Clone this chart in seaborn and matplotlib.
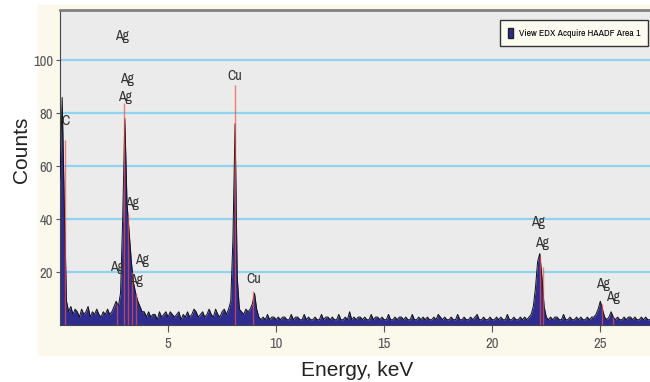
import numpy as np
import pandas as pd
import matplotlib
matplotlib.use("Agg")
import matplotlib.pyplot as plt
import seaborn as sns
from matplotlib import font_manager
from matplotlib.patches import Rectangle, Patch

# EDX spectrum, counts per 0.1 keV channel
step_kev = 0.1
counts = [
    55, 86, 45, 9, 5, 7, 4, 6, 5, 3,
    6, 4, 5, 7, 3, 5, 4, 6, 4, 3,
    5, 4, 6, 4, 5, 7, 9, 7, 12, 40,
    78, 46, 35, 24, 16, 12, 9, 7, 5, 5,
    3, 5, 3, 4, 4, 2, 5, 3, 4, 5,
    3, 5, 4, 3, 4, 5, 2, 4, 3, 5,
    3, 4, 6, 5, 3, 4, 5, 3, 4, 6,
    4, 3, 6, 4, 3, 5, 6, 4, 6, 9,
    32, 76, 18, 6, 5, 4, 6, 5, 6, 8,
    12, 6, 3, 2, 3, 2, 4, 2, 3, 3,
    2, 3, 2, 3, 3, 2, 2, 4, 2, 3,
    3, 2, 2, 4, 2, 3, 2, 2, 3, 2,
    2, 4, 2, 3, 3, 2, 3, 2, 2, 4,
    2, 2, 3, 2, 5, 2, 3, 2, 3, 3,
    2, 3, 2, 2, 4, 2, 3, 3, 2, 3,
    2, 2, 4, 2, 2, 3, 2, 3, 3, 2,
    3, 2, 2, 4, 2, 2, 3, 2, 3, 2,
    3, 2, 2, 3, 2, 4, 3, 2, 3, 2,
    2, 3, 2, 2, 4, 2, 2, 3, 2, 2,
    3, 2, 3, 4, 2, 2, 3, 2, 2, 3,
    2, 2, 3, 2, 3, 2, 2, 4, 2, 2,
    3, 2, 2, 3, 2, 3, 2, 3, 4, 7,
    14, 24, 27, 18, 7, 3, 2, 3, 2, 3,
    3, 2, 2, 4, 2, 2, 3, 2, 2, 3,
    2, 3, 2, 2, 3, 2, 3, 3, 4, 6,
    9, 6, 3, 2, 3, 5, 3, 2, 3, 2,
    2, 3, 2, 3, 3, 2, 3, 2, 2, 3,
    2, 3, 2, 2,
]
energy = np.arange(len(counts)) * step_kev

# element line markers (red)
marker_kev = [0.23, 2.63, 2.98, 3.15, 3.35, 3.52, 8.1, 8.94, 22.2, 22.35, 25.1, 25.6]
marker_h = [70, 8, 84, 42, 20, 12, 90.5, 13, 26, 22, 8, 3]

# peak labels
label_text = ["Ag", "Ag", "Ag", "C", "Ag", "Ag", "Ag", "Ag", "Cu", "Cu",
              "Ag", "Ag", "Ag", "Ag"]
label_kev = [2.85, 3.1, 3.0, 0.27, 3.35, 2.65, 3.8, 3.52, 8.1, 8.94,
             22.1, 22.3, 25.1, 25.6]
label_cnt = [109, 93, 86, 77, 46, 22, 24.5, 17, 94, 17.5,
             39, 31, 15.5, 10.5]

yticks = [20, 40, 60, 80, 100]
xticks = [5, 10, 15, 20, 25]

df = pd.DataFrame({"Energy": energy, "Counts": counts})

# use a condensed face if one is installed
names = sorted({f.name for f in font_manager.fontManager.ttflist})
cond = [n for n in names if "Narrow" in n or "Condensed" in n]
narrow = cond[:1] + ["Liberation Sans", "DejaVu Sans"]
k = 1.0 if cond else 0.85
plt.rcParams["font.family"] = ["Liberation Sans", "DejaVu Sans"]

fig = plt.figure(figsize=(6.5, 3.82), dpi=100)
fig.patches.append(Rectangle((38 / 650, 1 - 355 / 382), 612 / 650, 350 / 382,
                             transform=fig.transFigure, color="#FBF8EC", zorder=-10))
ax = fig.add_axes([60 / 650, 1 - 325 / 382, 590 / 650, 315 / 382])
ax.set_facecolor("#EBEBEB")

for y in yticks:
    ax.axhline(y, color="#8FD3F0", lw=1.6, zorder=1)

ax.fill_between(df["Energy"], df["Counts"], color="#2F2C90", lw=0, zorder=2)
sns.lineplot(data=df, x="Energy", y="Counts", color="#111", lw=0.7, ax=ax, zorder=3)
ax.vlines(marker_kev, 0, marker_h, color="#F0504A", lw=1.0, alpha=0.7, zorder=4)

for t, x, y in zip(label_text, label_kev, label_cnt):
    ax.text(x, y, t, ha="center", va="center", fontsize=10 * k, color="#333",
            family=narrow, zorder=5)

ax.set_xlim(0, 27.3)
ax.set_ylim(0, 119)
ax.set_xticks(xticks)
ax.set_yticks(yticks)
ax.tick_params(axis="both", labelsize=10.5 * k, labelcolor="#555", color="#555",
               length=3, width=0.8)
ax.tick_params(axis="x", length=5, pad=4)
ax.tick_params(axis="y", pad=2)
for lab in ax.get_xticklabels() + ax.get_yticklabels():
    lab.set_family(narrow)

ax.spines["top"].set_color("#808080")
ax.spines["top"].set_linewidth(2)
ax.spines["right"].set_visible(False)
ax.spines["left"].set_color("#444")
ax.spines["bottom"].set_color("#444")

ax.set_xlabel("")
ax.set_ylabel("")
fig.text(357 / 650, 1 - 371 / 382, "Energy, keV", ha="center", va="center",
         fontsize=15, color="#222")
fig.text(21 / 650, 1 - 150 / 382, "Counts", ha="center", va="center",
         rotation=90, fontsize=15, color="#222")

leg = ax.legend(handles=[Patch(facecolor="#2F2C90", edgecolor="#222")],
                labels=["View EDX Acquire HAADF Area 1"],
                loc="upper right", bbox_to_anchor=(0.997, 0.968),
                borderaxespad=0, fancybox=False, framealpha=1,
                facecolor="#FBFBF2", edgecolor="#333",
                prop={"family": narrow, "size": 7 * k},
                handlelength=0.5, handleheight=1.2, handletextpad=0.6,
                borderpad=0.8)
leg.get_frame().set_linewidth(1.0)

fig.savefig("out.png", dpi=100)
